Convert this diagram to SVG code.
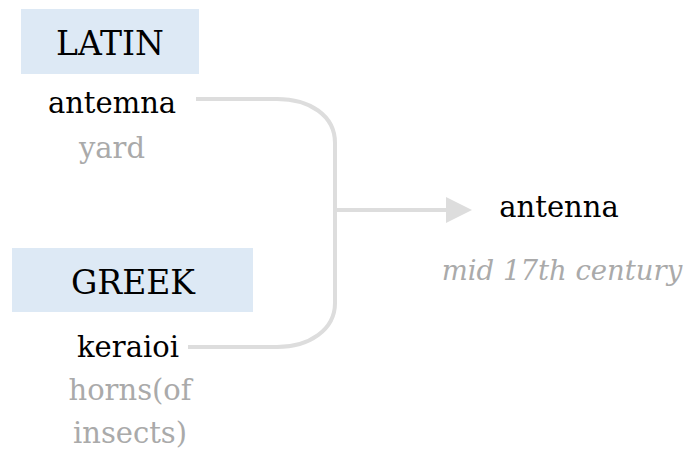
<svg xmlns="http://www.w3.org/2000/svg" width="689" height="452" viewBox="0 0 689 452">
<style>
text{font-family:'DejaVu Serif',serif;font-size:29px;text-anchor:middle}
.lang{fill:#000;font-size:33px}
.word{fill:#000}
.gloss{fill:#aaaaaa}
.date{font-size:27.5px;font-style:italic}
.box{fill:#dde9f5}
.conn{fill:none;stroke:#dddddd;stroke-width:4}
</style>
<rect width="689" height="452" fill="#ffffff"/>
<g id="latin">
<rect class="box" x="21" y="9" width="178" height="65"/>
<text class="lang" x="110" y="55">LATIN</text>
<text class="word" x="112" y="113">antemna</text>
<text class="gloss" x="112" y="158">yard</text>
</g>
<g id="greek">
<rect class="box" x="12" y="248" width="241" height="64"/>
<text class="lang" x="133" y="294">GREEK</text>
<text class="word" x="128" y="357">keraioi</text>
<text class="gloss" x="130" y="400">horns(of</text>
<text class="gloss" x="130" y="443">insects)</text>
</g>
<g id="result">
<text class="word" x="559" y="217">antenna</text>
<text class="gloss date" x="562" y="280">mid 17th century</text>
</g>
<g id="connectors">
<path class="conn" d="M196,99 H277 C309,99 335,115 335,143 V303 C335,330 309,347 277,347 H188"/>
<path class="conn" d="M337,210 H448"/>
<polygon points="446,197 472,210 446,223" fill="#dddddd"/>
</g>
</svg>
